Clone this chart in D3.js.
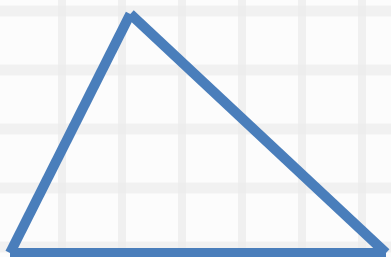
<!DOCTYPE html>
<html>
<head>
<meta charset="utf-8">
<script src="https://cdn.jsdelivr.net/npm/d3@7"></script>
<style>
  html, body { margin: 0; padding: 0; background: #fcfcfc; overflow: hidden; }
  svg { display: block; }
</style>
</head>
<body>
<div id="chart"></div>
<script>
// triangle corners (data units)
const pointX = [0, 32, 100];
const pointY = [0, 100, 0];
// faint background grid steps
const gridCols = [1, 2, 3, 4, 5, 6];
const gridRows = [0, 1, 2, 3, 4];

const width = 391;
const height = 257;

const svg = d3.select('#chart')
    .append('svg')
    .attr('width', width)
    .attr('height', height);

svg.append('rect')
    .attr('width', width)
    .attr('height', height)
    .attr('fill', '#fcfcfc');

// background grid, very faint
const gx = d3.scaleLinear().domain([0, 6]).range([2, 362]);
const gy = d3.scaleLinear().domain([0, 4]).range([11, 247]);

svg.append('g')
    .selectAll('line')
    .data(gridRows)
    .enter()
    .append('line')
    .attr('x1', 0)
    .attr('x2', width)
    .attr('y1', d => gy(d))
    .attr('y2', d => gy(d))
    .attr('stroke', '#f1f1f1')
    .attr('stroke-width', 11);

svg.append('g')
    .selectAll('line')
    .data(gridCols)
    .enter()
    .append('line')
    .attr('x1', d => gx(d))
    .attr('x2', d => gx(d))
    .attr('y1', 0)
    .attr('y2', height)
    .attr('stroke', '#ececec')
    .attr('stroke-width', 8)
    .attr('opacity', 0.7);

// triangle
const x = d3.scaleLinear().domain([0, 100]).range([10, 386]);
const y = d3.scaleLinear().domain([0, 100]).range([253, 14]);

const pts = pointX.map((v, i) => ({ x: v, y: pointY[i] }));
const segments = [
    [pts[0], pts[1]],
    [pts[1], pts[2]],
    [pts[2], pts[0]]
];

svg.append('g')
    .selectAll('line')
    .data(segments)
    .enter()
    .append('line')
    .attr('x1', d => x(d[0].x))
    .attr('y1', d => y(d[0].y))
    .attr('x2', d => x(d[1].x))
    .attr('y2', d => y(d[1].y))
    .attr('stroke', '#4a7ebb')
    .attr('stroke-width', 10)
    .attr('stroke-linecap', 'butt');
</script>
</body>
</html>
